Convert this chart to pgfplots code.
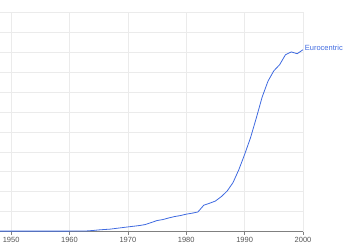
\documentclass[border=0pt]{standalone}
\usepackage{pgfplots}
\pgfplotsset{compat=1.18}
\usepackage{fontspec}
\setmainfont{Liberation Sans}
\definecolor{ngblue}{HTML}{3F6AE0}
\definecolor{gridc}{HTML}{EBEBEB}
\definecolor{txtc}{HTML}{555555}
\begin{document}
\begin{tikzpicture}[x=1pt,y=1pt]
\useasboundingbox (0,0) rectangle (350,246);
\begin{axis}[
  at={(0pt,14.5pt)}, anchor=south west,
  scale only axis, width=303pt, height=219pt,
  xmin=1948.1, xmax=2000, ymin=0, ymax=11,
  clip=false,
  axis x line*=bottom, axis y line*=left,
  x axis line style={draw=gray, -},
  y axis line style={draw=none},
  xtick={1950,1960,...,2000},
  ytick={0,1,...,11}, yticklabels={},
  ytick style={draw=none},
  xtick style={draw=gray, thin},
  tick align=outside, major tick length=3pt,
  grid=major, major grid style={draw=gridc, line width=0.6pt},
  xticklabel style={font=\fontsize{7.5}{9}\selectfont, text=txtc, yshift=1pt},
  /pgf/number format/1000 sep={},
  /pgf/number format/assume math mode=true,
]
\addplot[ngblue, line width=0.8pt] coordinates {
(1948,0.02) (1950,0.02) (1955,0.02) (1960,0.02) (1963,0.03) (1964,0.05)
(1965,0.08) (1967,0.12) (1970,0.23) (1972,0.30) (1973,0.35) (1974,0.45)
(1975,0.55) (1976,0.60) (1977,0.68) (1978,0.75) (1979,0.80) (1980,0.87)
(1981,0.92) (1982,0.98) (1983,1.32) (1984,1.42) (1985,1.53) (1986,1.75)
(1987,2.03) (1988,2.45) (1989,3.10) (1990,3.87) (1991,4.70) (1992,5.70)
(1993,6.75) (1994,7.55) (1995,8.07) (1996,8.38) (1997,8.88) (1998,9.02)
(1999,8.93) (2000,9.13)
} node[pos=1, anchor=west, xshift=0.5pt, yshift=1.5pt, font=\fontsize{7.5}{9}\selectfont, text=ngblue, inner sep=1pt] {Eurocentric};
\end{axis}
\end{tikzpicture}
\end{document}
